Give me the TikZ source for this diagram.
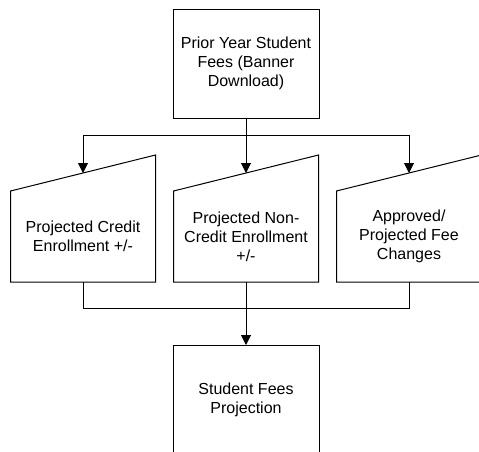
\documentclass[tikz,border=0pt]{standalone}
\usepackage{fontspec}
\setmainfont{Liberation Sans}
\usepackage{tikz}
\usetikzlibrary{positioning,calc,arrows.meta}

\begin{document}
\begin{tikzpicture}[
    x=0.75pt, y=-0.75pt,
    every node/.style={font=\fontsize{12}{14.4}\selectfont},
    process/.style={rectangle, draw=black, line width=0.75pt, outer sep=0pt, inner sep=0pt, minimum width=109.5pt, minimum height=81.75pt, align=center},
    manual/.style={rectangle, outer sep=0pt, inner sep=0pt, minimum width=108.75pt, minimum height=68.25pt, align=center},
    line/.style={line width=0.75pt},
    arrow/.style={-{Triangle[length=7.5pt,width=7.5pt]}, line width=0.75pt}
]
    \useasboundingbox (0,0) rectangle (479,451);
    \clip (0,0) rectangle (479,451);

    \node[process] (prior) at (246,63.5) {Prior Year Student\\Fees (Banner\\Download)};

    \node[manual, below=54.75pt of prior] (noncredit) {Projected Non-\\Credit Enrollment\\+/-};
    \node[manual, left=13.5pt of noncredit] (credit) {Projected Credit\\Enrollment +/-};
    \node[manual, right=13.5pt of noncredit] (changes) {Approved/\\Projected Fee\\Changes};

    \node[process, below=47.25pt of noncredit] (projection) {Student Fees\\Projection};

    % manual input outlines
    \foreach \n in {credit,noncredit,changes} {
        \draw[line] (\n.south west) -- (\n.south east) -- ([yshift=27pt]\n.north east) -- (\n.north west) -- cycle;
        \coordinate (\n-in) at ([yshift=13.5pt]\n.north);
    }

    \draw[line] (prior.south) -- ++(0,17) coordinate (fork);
    \draw[arrow] (fork) -| (credit-in);
    \draw[arrow] (prior.south) -- (noncredit-in);
    \draw[arrow] (fork) -| (changes-in);

    \draw[line] (credit.south) -- ++(0,26) -| (changes.south);
    \draw[arrow] (noncredit.south) -- (projection.north);
\end{tikzpicture}
\end{document}
